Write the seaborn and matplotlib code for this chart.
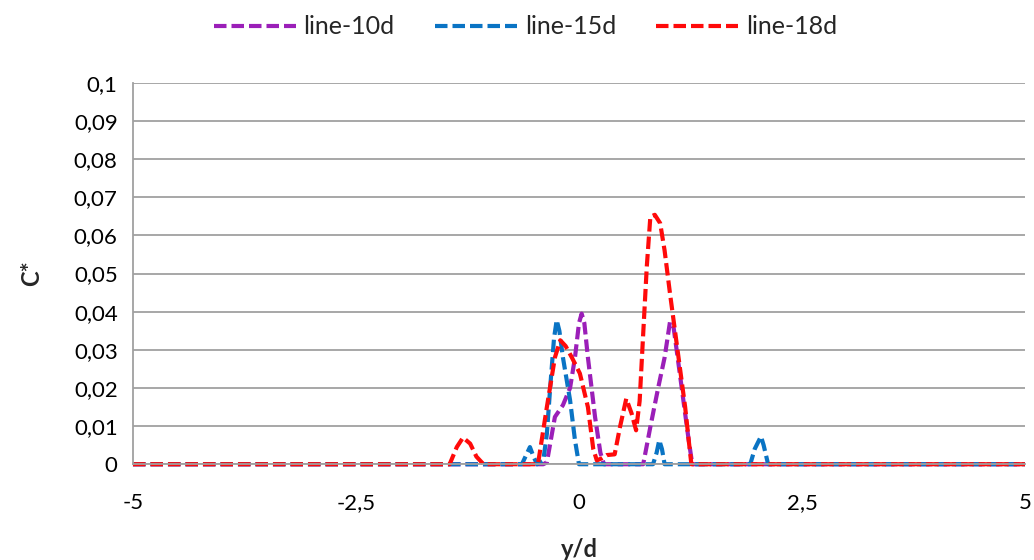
import pandas as pd
import seaborn as sns
import matplotlib.pyplot as plt
from matplotlib.ticker import FuncFormatter, MultipleLocator

# values
x_10d = [-5, -0.40, -0.36, -0.27, -0.18, -0.10, -0.045, 0.0, 0.03, 0.06, 0.10, 0.18, 0.24, 0.28,
         0.72, 0.80, 0.89, 0.96, 1.02, 1.06, 1.11, 1.17, 1.23, 1.27, 5]
c_10d = [0, 0, 0.0005, 0.0124, 0.0155, 0.020, 0.028, 0.037, 0.0395, 0.037, 0.028, 0.0124, 0.003, 0,
         0, 0.0098, 0.0203, 0.028, 0.0373, 0.036, 0.0273, 0.0168, 0.0063, 0, 0]

x_15d = [-5, -0.64, -0.60, -0.55, -0.51, -0.47, -0.40, -0.36, -0.32, -0.28, -0.25, -0.22, -0.18,
         -0.10, -0.045, 0.0, 0.83, 0.87, 0.90, 0.93, 0.96, 1.92, 1.97, 2.04, 2.07, 2.09, 2.12, 5]
c_15d = [0, 0, 0.002, 0.0045, 0.002, 0, 0.001, 0.008, 0.021, 0.033, 0.0378, 0.035, 0.028,
         0.0168, 0.0063, 0, 0, 0.003, 0.0063, 0.004, 0, 0, 0.004, 0.0073, 0.005, 0.003, 0, 0]

x_18d = [-5, -1.45, -1.37, -1.30, -1.22, -1.15, -1.07, -0.46, -0.36, -0.27, -0.21, -0.15, -0.08,
         0.01, 0.10, 0.16, 0.20, 0.25, 0.31, 0.40, 0.46, 0.53, 0.59, 0.64, 0.68, 0.72, 0.76,
         0.80, 0.85, 0.91, 0.96, 1.02, 1.08, 1.13, 1.19, 1.23, 1.26, 5]
c_18d = [0, 0, 0.0045, 0.007, 0.0054, 0.002, 0, 0, 0.015, 0.028, 0.0325, 0.031, 0.028,
         0.0238, 0.015, 0.004, 0.001, 0.0015, 0.0024, 0.0026, 0.0098, 0.0172, 0.0133, 0.0089, 0.0166,
         0.0343, 0.0518, 0.0649, 0.0654, 0.0632, 0.056, 0.0448, 0.0343, 0.0255, 0.015, 0.0063, 0, 0]

series = ['line-10d', 'line-15d', 'line-18d']
colors = {'line-10d': '#9b1fb8', 'line-15d': '#0a74c4', 'line-18d': '#ff0a0a'}

df = pd.concat([
    pd.DataFrame({'y/d': x_10d, 'C*': c_10d, 'line': 'line-10d'}),
    pd.DataFrame({'y/d': x_15d, 'C*': c_15d, 'line': 'line-15d'}),
    pd.DataFrame({'y/d': x_18d, 'C*': c_18d, 'line': 'line-18d'}),
], ignore_index=True)

sns.set_style('white')
plt.rcParams['font.family'] = ['Lato', 'DejaVu Sans']

fig = plt.figure(figsize=(10.34, 5.6), dpi=100)
ax = fig.add_axes([0.1286, 0.171, 0.8627, 0.681])

sns.lineplot(data=df, x='y/d', y='C*', hue='line', style='line', hue_order=series,
             style_order=series, palette=colors, dashes={s: (3.0, 1.2) for s in series},
             sort=False, linewidth=3.0, ax=ax, legend=True)

for line in ax.get_lines():
    line.set_dash_capstyle('butt')
    line.set_dash_joinstyle('round')
    line.set_clip_on(False)

ax.set_xlim(-5, 5)
ax.set_ylim(0, 0.1)
ax.xaxis.set_major_locator(MultipleLocator(2.5))
ax.yaxis.set_major_locator(MultipleLocator(0.01))
comma = FuncFormatter(lambda v, p: ('%g' % round(v, 4)).replace('.', ','))
ax.xaxis.set_major_formatter(comma)
ax.yaxis.set_major_formatter(comma)

ax.grid(axis='y', color='#a0a0a0', linewidth=1.3)
ax.set_axisbelow(True)
for s in ['top', 'right']:
    ax.spines[s].set_visible(False)
ax.spines['left'].set_color('#a0a0a0')
ax.spines['bottom'].set_color('#a0a0a0')
ax.spines['left'].set_linewidth(1.3)
ax.spines['bottom'].set_linewidth(1.3)
ax.tick_params(axis='both', which='major', direction='out', length=5, width=1.2,
               color='#a0a0a0', labelsize=16, labelcolor='black', pad=6)
ax.tick_params(axis='x', pad=16)

ax.set_xlabel('y/d', fontsize=17, fontweight='bold', labelpad=18)
ax.set_ylabel('C*', fontsize=17, fontweight='bold', labelpad=22)

handles, labels = ax.get_legend_handles_labels()
ax.get_legend().remove()
leg = fig.legend(handles, labels, loc='center', bbox_to_anchor=(0.508, 0.952), ncol=3,
                 frameon=False, fontsize=18, handlelength=3.3, handletextpad=0.3,
                 columnspacing=1.6)
for h in leg.get_lines():
    h.set_linewidth(3.0)
    h.set_dash_capstyle('butt')

fig.savefig('out.png', dpi=100)
